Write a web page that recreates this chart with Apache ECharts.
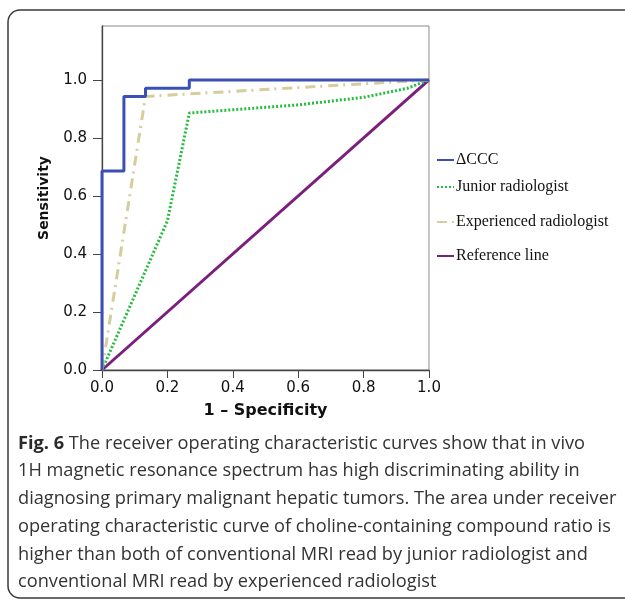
<!DOCTYPE html>
<html>
<head>
<meta charset="utf-8">
<script src="https://cdn.jsdelivr.net/npm/echarts@6/dist/echarts.min.js"></script>
<style>html,body{margin:0;padding:0;background:#fff;}#c{width:625px;height:603px;}</style>
</head>
<body>
<div id="c"></div>
<script>
// ---- data ----
var seriesNames = ['\u0394CCC', 'Junior radiologist', 'Experienced radiologist', 'Reference line'];
var cccPoints = [[0,0],[0,0.686],[0.067,0.686],[0.067,0.943],[0.133,0.943],[0.133,0.971],[0.267,0.971],[0.267,1.0],[1.0,1.0]];
var juniorPoints = [[0,0],[0.2,0.514],[0.267,0.886],[0.6,0.914],[0.8,0.94],[0.933,0.971],[1.0,1.0]];
var experiencedPoints = [[0,0],[0.133,0.943],[1.0,1.0]];
var referencePoints = [[0,0],[1.0,1.0]];
var xTicks = [0,0.2,0.4,0.6,0.8,1.0];
var yTicks = [0,0.2,0.4,0.6,0.8,1.0];
var captionLines = [
  ['Fig. 6', ' The receiver operating characteristic curves show that in vivo'],
  ['', '1H magnetic resonance spectrum has high discriminating ability in'],
  ['', 'diagnosing primary malignant hepatic tumors. The area under receiver'],
  ['', 'operating characteristic curve of choline-containing compound ratio is'],
  ['', 'higher than both of conventional MRI read by junior radiologist and'],
  ['', 'conventional MRI read by experienced radiologist']
];

var colors = ['#3b4fb5', '#22be3c', '#d5cd9b', '#7a1f7c'];
var chart = echarts.init(document.getElementById('c'), null, {renderer:'canvas'});

var graphics = [{
  type:'rect', z:-1, silent:true,
  shape:{x:8, y:10, width:700, height:588, r:12},
  style:{fill:'none', stroke:'#3a3a3a', lineWidth:1.5}
}];
var capY = [442, 469, 497, 525, 553, 580];
captionLines.forEach(function(l, i){
  graphics.push({
    type:'text', left:18, top:capY[i]-7, silent:true,
    style:{
      text:(l[0] ? '{b|' + l[0] + '}' : '') + '{n|' + l[1] + '}',
      rich:{
        b:{fontFamily:'Open Sans', fontWeight:'bold', fontSize:18.2, fill:'#2a2a2a'},
        n:{fontFamily:'Open Sans', fontSize:18.2, fill:'#333'}
      }
    }
  });
});

var legendTops = [159, 186, 221, 255];
var legends = seriesNames.map(function(n, i){
  return {
    data:[n], left:436, top:legendTops[i]-7, orient:'vertical',
    itemWidth:17, itemHeight:14, itemGap:0, padding:0,
    itemStyle:{opacity:0},
    textStyle:{fontFamily:'Liberation Serif', fontSize:16, color:'#111', padding:[0,0,0,-3]},
    selectedMode:false
  };
});

function lineSeries(name, data, color, width, type){
  return {
    name:name, type:'line', data:data, showSymbol:false, symbol:'none',
    lineStyle:{color:color, width:width, type:type},
    itemStyle:{color:color}, animation:false, clip:true
  };
}

chart.setOption({
  backgroundColor:'#fff',
  animation:false,
  color:colors,
  legend:legends,
  graphic:graphics,
  grid:{left:102, right:196, top:26, bottom:233, show:true, borderColor:'#8a8a8a', borderWidth:1},
  xAxis:{
    type:'value', min:0, max:1,
    name:'1 \u2013 Specificity', nameLocation:'middle', nameGap:33,
    nameTextStyle:{fontFamily:'DejaVu Sans', fontWeight:'bold', fontSize:16, color:'#111'},
    axisLine:{lineStyle:{color:'#444', width:1.3}},
    axisTick:{length:8, lineStyle:{color:'#444'}, customValues:xTicks},
    axisLabel:{fontFamily:'DejaVu Sans', fontSize:15, color:'#111', margin:11, customValues:xTicks,
      formatter:function(v){return v.toFixed(1);}},
    splitLine:{show:false}
  },
  yAxis:{
    type:'value', min:0, max:1.186,
    name:'Sensitivity', nameLocation:'middle', nameGap:51,
    nameTextStyle:{fontFamily:'DejaVu Sans', fontWeight:'bold', fontSize:14, color:'#111'},
    axisLine:{show:true, lineStyle:{color:'#444', width:1.3}},
    axisTick:{show:true, length:9, lineStyle:{color:'#444'}, customValues:yTicks},
    axisLabel:{fontFamily:'DejaVu Sans', fontSize:15, color:'#111', margin:15, customValues:yTicks,
      formatter:function(v){return v.toFixed(1);}},
    splitLine:{show:false}
  },
  series:[
    lineSeries(seriesNames[3], referencePoints, colors[3], 3, 'solid'),
    lineSeries(seriesNames[1], juniorPoints, colors[1], 3, [2,2]),
    lineSeries(seriesNames[2], experiencedPoints, colors[2], 3, [10,5,2,6]),
    lineSeries(seriesNames[0], cccPoints, colors[0], 3, 'solid')
  ]
});
</script>
</body>
</html>
